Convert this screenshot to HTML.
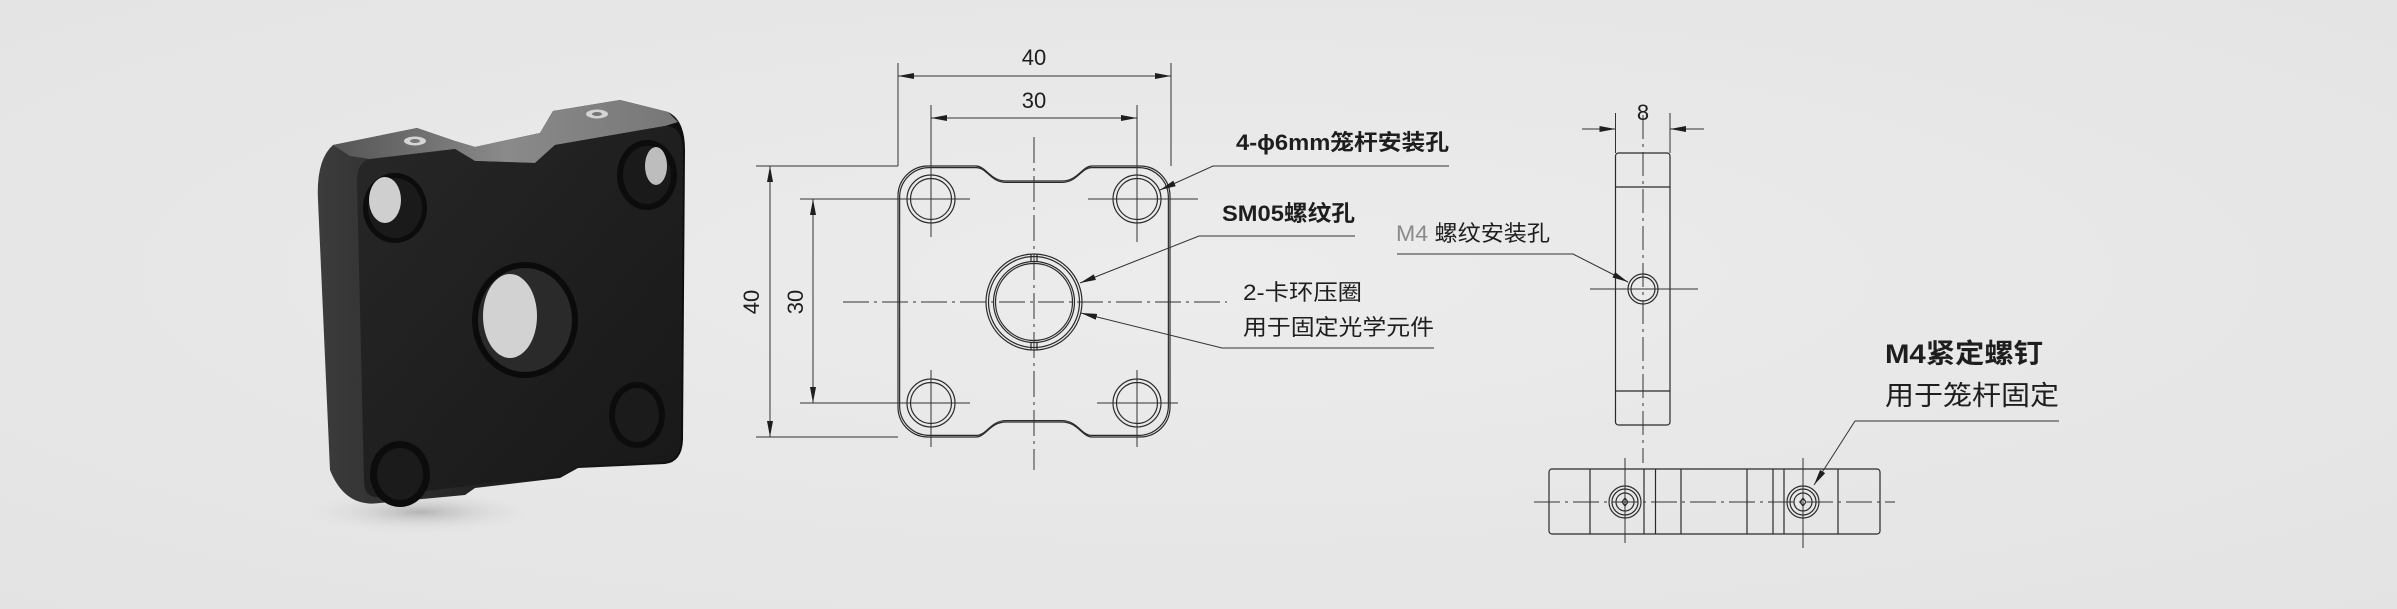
<!DOCTYPE html>
<html><head><meta charset="utf-8"><style>
html,body{margin:0;padding:0;background:#e8e8e8;}
svg{display:block;}
text{font-family:"Liberation Sans","Noto Sans CJK SC",sans-serif;fill:#1e1e1e;}
</style></head><body>
<svg width="2397" height="609" viewBox="0 0 2397 609" xmlns="http://www.w3.org/2000/svg">
<defs>
<radialGradient id="bg" cx="0.5" cy="0.45" r="0.75">
<stop offset="0" stop-color="#ececec"/><stop offset="1" stop-color="#e3e3e3"/></radialGradient>
<linearGradient id="face" x1="0" y1="0" x2="1" y2="1">
<stop offset="0" stop-color="#272727"/><stop offset="0.5" stop-color="#1f1f1f"/><stop offset="1" stop-color="#181818"/></linearGradient>
<linearGradient id="side" x1="0" y1="0" x2="1" y2="0">
<stop offset="0" stop-color="#3c3c3c"/><stop offset="0.6" stop-color="#1a1a1a"/><stop offset="1" stop-color="#0e0e0e"/></linearGradient>
<linearGradient id="top" x1="0" y1="0" x2="1" y2="0">
<stop offset="0" stop-color="#555"/><stop offset="0.5" stop-color="#8a8a8a"/><stop offset="1" stop-color="#777"/></linearGradient>
<radialGradient id="shadow" cx="0.5" cy="0.5" r="0.5">
<stop offset="0" stop-color="#a8a8a8" stop-opacity="0.8"/><stop offset="1" stop-color="#e6e6e6" stop-opacity="0"/></radialGradient>
<marker id="a" viewBox="0 0 16 6" refX="16" refY="3" markerWidth="16" markerHeight="6" markerUnits="userSpaceOnUse" orient="auto-start-reverse"><path d="M0,0L16,3L0,6z" fill="#1e1e1e"/></marker>
</defs>
<rect width="2397" height="609" fill="url(#bg)"/>

<!-- ===== Photo ===== -->
<ellipse cx="420" cy="512" rx="120" ry="22" fill="url(#shadow)"/>
<!-- whole silhouette / side -->
<path d="M333,145 L417,128 L455,141 L475,147 L540,133 L553,111 L620,100 L668,112 Q685,120 685,150 L683,440 Q682,462 665,464 L578,468 L560,478 L475,488 L465,495 L380,503 Q345,508 330,470 L318,200 Q316,160 333,145 Z" fill="url(#side)"/>
<!-- top surface -->
<path d="M333,145 L417,128 L455,141 L475,147 L540,133 L553,111 L620,100 L668,112 L678,122 L665,126 L555,145 L535,163 L475,161 L455,149 L370,159 L350,156 Z" fill="url(#top)"/>
<!-- front face -->
<path d="M370,159 L455,149 L475,161 L535,163 L555,145 L665,126 Q683,126 683,152 L681,440 Q680,460 665,462 L578,466 L560,475 L475,485 L378,497 Q364,498 364,480 L357,182 Q357,161 370,159 Z" fill="url(#face)"/>
<!-- screws on top -->
<ellipse cx="415" cy="141" rx="11" ry="4.5" fill="#d4d4d4"/><ellipse cx="415" cy="141" rx="5" ry="2" fill="#777"/>
<ellipse cx="597" cy="114" rx="11" ry="4.5" fill="#d4d4d4"/><ellipse cx="597" cy="114" rx="5" ry="2" fill="#777"/>
<!-- holes -->
<ellipse cx="395" cy="208" rx="32" ry="35" fill="#0c0c0c"/>
<ellipse cx="395" cy="208" rx="27" ry="30" fill="#1a1a1a"/>
<ellipse cx="385" cy="200" rx="16" ry="23" fill="#cfcfcf"/>
<ellipse cx="647" cy="175" rx="30" ry="35" fill="#0c0c0c"/>
<ellipse cx="647" cy="175" rx="24" ry="29" fill="#1a1a1a"/>
<ellipse cx="656" cy="166" rx="11" ry="19" fill="#bdbdbd"/>
<ellipse cx="637" cy="415" rx="28" ry="33" fill="#0c0c0c"/>
<ellipse cx="637" cy="415" rx="22" ry="27" fill="#1b1b1b"/>
<ellipse cx="400" cy="474" rx="30" ry="33" fill="#0c0c0c"/>
<ellipse cx="400" cy="474" rx="23" ry="26" fill="#1b1b1b"/>
<ellipse cx="525" cy="320" rx="53" ry="58" fill="#0b0b0b"/>
<ellipse cx="525" cy="320" rx="47" ry="52" fill="#2a2a2a"/>
<ellipse cx="510" cy="316" rx="27" ry="42" fill="#d2d2d2"/>

<!-- ===== Front view drawing ===== -->
<g stroke="#2a2a2a" fill="none" stroke-width="1.2">
<path d="M928,166 L976,166 C986,166 990,181 1006,181 L1062,181 C1078,181 1082,166 1092,166 L1140,166 A30 30 0 0 1 1170 196 L1170 407 A30 30 0 0 1 1140 437 L1092 437 C1082 437 1078 422 1062 422 L1006 422 C990 422 986 437 976 437 L928 437 A30 30 0 0 1 898 407 L898 196 A30 30 0 0 1 928 166 Z"/>
<path transform="translate(1034 301.5) scale(0.988) translate(-1034 -301.5)" d="M928,166 L976,166 C986,166 990,181 1006,181 L1062,181 C1078,181 1082,166 1092,166 L1140,166 A30 30 0 0 1 1170 196 L1170 407 A30 30 0 0 1 1140 437 L1092 437 C1082 437 1078 422 1062 422 L1006 422 C990 422 986 437 976 437 L928 437 A30 30 0 0 1 898 407 L898 196 A30 30 0 0 1 928 166 Z"/>
<circle cx="931" cy="199" r="24"/><circle cx="931" cy="199" r="20.5"/>
<circle cx="1137" cy="199" r="24"/><circle cx="1137" cy="199" r="20.5"/>
<circle cx="931" cy="403" r="24"/><circle cx="931" cy="403" r="20.5"/>
<circle cx="1137" cy="403" r="24"/><circle cx="1137" cy="403" r="20.5"/>
<circle cx="1034" cy="302" r="48"/><circle cx="1034" cy="302" r="45.5"/>
<circle cx="1034" cy="302" r="40.5"/><circle cx="1034" cy="302" r="38.5"/>
<path d="M1031,254 V262 M1037,254 V262 M1031,342 V350 M1037,342 V350"/>
</g>
<g stroke="#333" fill="none" stroke-width="1">
<line x1="1034" y1="137" x2="1034" y2="470" stroke-dasharray="26,5,3,5"/>
<line x1="843" y1="302" x2="1227" y2="302" stroke-dasharray="26,5,3,5"/>
<line x1="800" y1="199" x2="970" y2="199"/><line x1="931" y1="105" x2="931" y2="237"/>
<line x1="1088" y1="199" x2="1198" y2="199"/><line x1="1137" y1="105" x2="1137" y2="242"/>
<line x1="800" y1="403" x2="970" y2="403"/><line x1="931" y1="370" x2="931" y2="447"/>
<line x1="1097" y1="403" x2="1178" y2="403"/><line x1="1137" y1="370" x2="1137" y2="447"/>
<line x1="898" y1="63" x2="898" y2="166"/><line x1="1171" y1="63" x2="1171" y2="166"/>
<line x1="756" y1="166" x2="898" y2="166"/><line x1="756" y1="437" x2="898" y2="437"/>
<line x1="898" y1="76" x2="1171" y2="76" marker-start="url(#a)" marker-end="url(#a)"/>
<line x1="931" y1="118" x2="1137" y2="118" marker-start="url(#a)" marker-end="url(#a)"/>
<line x1="770" y1="166" x2="770" y2="437" marker-start="url(#a)" marker-end="url(#a)"/>
<line x1="813" y1="199" x2="813" y2="403" marker-start="url(#a)" marker-end="url(#a)"/>
<polyline points="1449,166 1213,166 1160,190" marker-end="url(#a)"/>
<polyline points="1355,236 1199,236 1080,283" marker-end="url(#a)"/>
<polyline points="1434,348 1222,348 1081,313" marker-end="url(#a)"/>
</g>
<text x="1034" y="65" font-size="22" text-anchor="middle">40</text>
<text x="1034" y="108" font-size="22" text-anchor="middle">30</text>
<text transform="translate(759 302) rotate(-90)" font-size="22" text-anchor="middle">40</text>
<text transform="translate(803 302) rotate(-90)" font-size="22" text-anchor="middle">30</text>

<text x="1236" y="150" font-size="22" font-weight="bold" textLength="213" lengthAdjust="spacingAndGlyphs">4-ϕ6mm笼杆安装孔</text>
<text x="1222" y="221" font-size="22" font-weight="bold" textLength="133" lengthAdjust="spacingAndGlyphs">SM05螺纹孔</text>
<text x="1243" y="300" font-size="22" textLength="119" lengthAdjust="spacingAndGlyphs">2-卡环压圈</text>
<text x="1243" y="335" font-size="22" textLength="191" lengthAdjust="spacingAndGlyphs">用于固定光学元件</text>

<!-- ===== Side view ===== -->
<g stroke="#2a2a2a" fill="none" stroke-width="1.2">
<rect x="1615.5" y="153" width="54.5" height="272" rx="3"/>
<line x1="1615.5" y1="187" x2="1670" y2="187"/>
<line x1="1615.5" y1="391" x2="1670" y2="391"/>
<circle cx="1643" cy="289" r="15"/><circle cx="1643" cy="289" r="12"/>
</g>
<g stroke="#333" fill="none" stroke-width="1">
<line x1="1643" y1="115" x2="1643" y2="463" stroke-dasharray="24,5,3,5"/>
<line x1="1590" y1="289" x2="1698" y2="289"/>
<line x1="1615.5" y1="113" x2="1615.5" y2="153"/><line x1="1670" y1="113" x2="1670" y2="153"/>
<line x1="1582" y1="129" x2="1615.5" y2="129" marker-end="url(#a)"/>
<line x1="1704" y1="129" x2="1670" y2="129" marker-end="url(#a)"/>
<polyline points="1397,254 1573,254 1628,282" marker-end="url(#a)"/>
</g>
<text x="1643" y="120" font-size="22" text-anchor="middle">8</text>
<text x="1396" y="241" font-size="22" textLength="154" lengthAdjust="spacingAndGlyphs"><tspan fill="#8a8a8a">M4 </tspan><tspan>螺纹安装孔</tspan></text>

<!-- ===== Bottom view ===== -->
<g stroke="#2a2a2a" fill="none" stroke-width="1.2">
<rect x="1549" y="469" width="331" height="65" rx="3"/>
<path d="M1590,469V534 M1644,469V534 M1655.5,469V534 M1681,469V534 M1747,469V534 M1773,469V534 M1784,469V534 M1838,469V534"/>
<circle cx="1625" cy="502" r="16"/><circle cx="1625" cy="502" r="13"/><circle cx="1625" cy="502" r="9"/>
<circle cx="1803" cy="502" r="16"/><circle cx="1803" cy="502" r="13"/><circle cx="1803" cy="502" r="9"/>
<path d="M1622,502 L1625,498 L1628,502 L1625,506Z M1800,502 L1803,498 L1806,502 L1803,506Z"/>
</g>
<g stroke="#333" fill="none" stroke-width="1">
<line x1="1534" y1="502" x2="1895" y2="502" stroke-dasharray="26,5,3,5"/>
<line x1="1625" y1="458" x2="1625" y2="543"/>
<line x1="1803" y1="458" x2="1803" y2="548"/>
<polyline points="2059,421 1855,421 1814,485" marker-end="url(#a)"/>
</g>
<text x="1885" y="363" font-size="27" font-weight="bold" textLength="158" lengthAdjust="spacingAndGlyphs">M4紧定螺钉</text>
<text x="1885" y="405" font-size="27" textLength="174" lengthAdjust="spacingAndGlyphs">用于笼杆固定</text>
</svg>
</body></html>
